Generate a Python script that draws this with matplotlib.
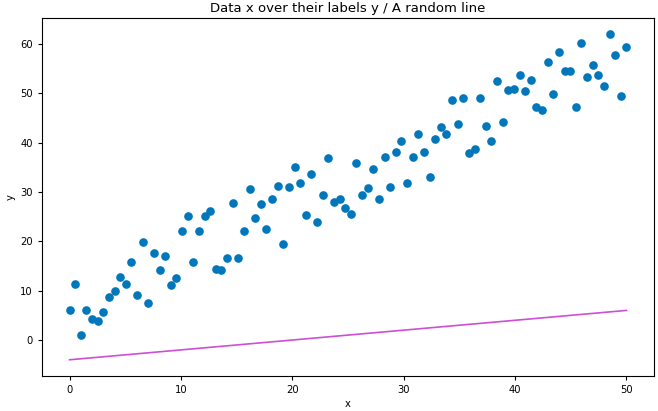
import matplotlib
matplotlib.use("Agg")
import matplotlib.pyplot as plt
import numpy as np

# data
x_data = np.linspace(0, 50, 100)
y_data = [6.1, 11.35, 1.1, 6.0, 4.2, 3.9, 5.7, 8.7, 10.0, 12.7,
          11.35, 15.8, 9.1, 19.8, 7.6, 17.6, 14.25, 17.0, 11.1, 12.5,
          22.1, 25.1, 15.8, 22.1, 25.1, 26.1, 14.45, 14.25, 16.7, 27.8,
          16.7, 22.1, 30.5, 24.7, 27.6, 22.5, 28.5, 31.2, 19.4, 31.0,
          35.0, 31.8, 25.4, 33.65, 23.9, 29.4, 36.8, 28.0, 28.5, 26.7,
          25.6, 35.9, 29.4, 30.7, 34.7, 28.5, 37.0, 31.0, 38.1, 40.3,
          31.8, 37.0, 41.7, 38.1, 33.0, 40.8, 43.2, 41.7, 48.6, 43.7,
          49.1, 37.8, 38.6, 49.1, 43.4, 40.3, 52.4, 44.1, 50.6, 50.8,
          53.7, 50.4, 52.6, 47.3, 46.6, 56.4, 49.9, 58.4, 54.4, 54.4,
          47.3, 60.2, 53.3, 55.7, 53.7, 51.5, 62.0, 57.8, 49.5, 59.3]

line_x = [0, 50]
line_y = [-4, 6]

fig = plt.figure(figsize=(6.58, 4.11), dpi=100)
ax = fig.add_axes([0.0634, 0.085, 0.931, 0.872])

ax.scatter(x_data, y_data, s=27, color='#0077bb', zorder=2)
ax.plot(line_x, line_y, color='#cc4fd6', linewidth=1.2)

ax.set_title("Data x over their labels y / A random line", fontsize=9.5, pad=4)
ax.set_xlabel("x", fontsize=7.2, labelpad=3)
ax.set_ylabel("y", fontsize=7.2, labelpad=3)
ax.tick_params(labelsize=7.2, length=3)

fig.savefig("out.png", dpi=100)
